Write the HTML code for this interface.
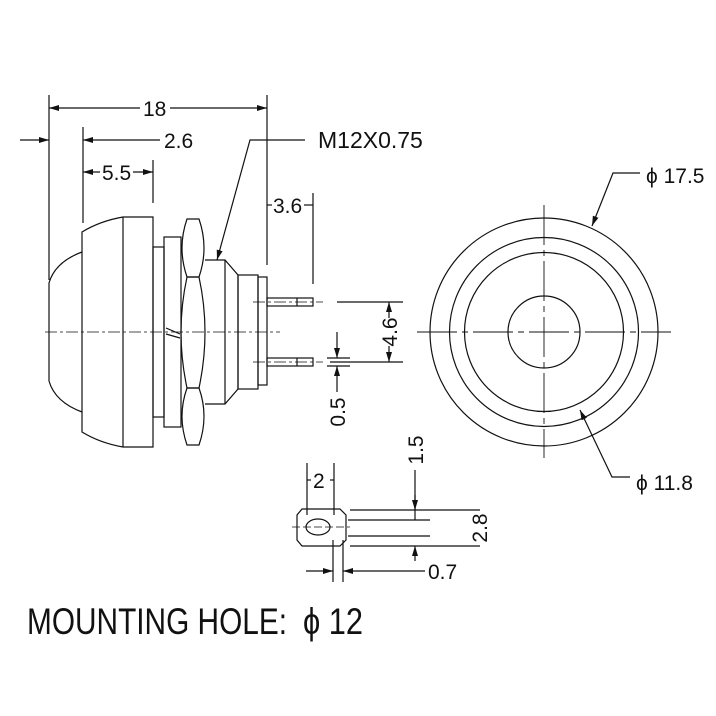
<!DOCTYPE html>
<html><head><style>body{margin:0;background:#fff}svg{display:block}</style></head><body>
<svg width="716" height="716" viewBox="0 0 716 716" xmlns="http://www.w3.org/2000/svg" font-family="Liberation Sans, sans-serif" fill="none" stroke="#111" stroke-width="1.2">
<defs><marker id="a" viewBox="0 0 10 6" refX="10" refY="3" markerWidth="10" markerHeight="6" orient="auto-start-reverse" markerUnits="userSpaceOnUse"><path d="M0,0 L10,3 L0,6z" fill="#111" stroke="none"/></marker></defs>
<!-- side view body -->
<path d="M49,381 V283 Q55,262 82,252 V232 Q100,221 123,217 H153 V447 H123 Q100,443 82,432 V412 Q55,402 49,381"/>
<line x1="82" y1="252" x2="82" y2="412"/>
<line x1="123" y1="217" x2="123" y2="447"/>
<rect x="153" y="247" width="11" height="170"/>
<rect x="164" y="237" width="17" height="190"/>
<path d="M187,219 H199 Q209,248 199,277 H187 Q177,248 187,219 Z"/>
<path d="M187,277 H199 Q211,332 199,388 H187 Q175,332 187,277 Z"/>
<path d="M187,388 H199 Q209,416 199,445 H187 Q177,416 187,388 Z"/>
<line x1="166" y1="328" x2="180" y2="334"/><line x1="166" y1="334" x2="180" y2="338"/>
<path d="M205,260 H225 L238,275 V389 L225,404 H205"/>
<line x1="225" y1="260" x2="225" y2="404"/>
<rect x="238" y="275" width="20" height="114"/>
<rect x="258" y="277" width="9" height="108"/>
<!-- pins -->
<rect x="267" y="298" width="46" height="8"/><rect x="267" y="358" width="46" height="8"/>
<line x1="297" y1="298" x2="297" y2="306"/><line x1="297" y1="358" x2="297" y2="366"/>
<g stroke-width="0.8" stroke-dasharray="12,3,3,3">
<line x1="253" y1="302" x2="323" y2="302"/><line x1="253" y1="362" x2="323" y2="362"/>
<line x1="45" y1="332" x2="280" y2="332"/>
</g>
<!-- dims top -->
<line x1="49" y1="95" x2="49" y2="280"/><line x1="267" y1="95" x2="267" y2="265"/>
<line x1="49" y1="108" x2="140" y2="108" marker-start="url(#a)"/><line x1="170" y1="108" x2="267" y2="108" marker-end="url(#a)"/>
<line x1="20" y1="140" x2="49" y2="140" marker-end="url(#a)"/>
<line x1="83" y1="127" x2="83" y2="223"/>
<line x1="83" y1="140" x2="160" y2="140" marker-start="url(#a)"/>
<line x1="153" y1="160" x2="153" y2="203"/>
<line x1="83" y1="172" x2="100" y2="172" marker-start="url(#a)"/><line x1="133" y1="172" x2="153" y2="172" marker-end="url(#a)"/>
<line x1="313" y1="193" x2="313" y2="284"/>
<line x1="267" y1="205" x2="272" y2="205"/><line x1="304" y1="205" x2="313" y2="205"/>
<path d="M305,140 H250 L217,260" marker-end="url(#a)"/>
<!-- 4.6 / 0.5 -->
<line x1="337" y1="302" x2="403" y2="302"/><line x1="330" y1="362" x2="403" y2="362"/>
<line x1="389" y1="302" x2="389" y2="318" marker-start="url(#a)"/><line x1="389" y1="346" x2="389" y2="362" marker-end="url(#a)"/>
<line x1="327" y1="358" x2="350" y2="358"/><line x1="327" y1="366" x2="350" y2="366"/>
<line x1="337" y1="332" x2="337" y2="358" marker-end="url(#a)"/><line x1="337" y1="366" x2="337" y2="392" marker-start="url(#a)"/>
<!-- front view -->
<circle cx="544" cy="332" r="114"/><circle cx="544" cy="332" r="94.5"/><circle cx="544" cy="332" r="79.5"/><circle cx="544" cy="332" r="36"/>
<g stroke-width="0.9" stroke-dasharray="40,5,6,5"><line x1="417" y1="332" x2="671" y2="332"/><line x1="544" y1="205" x2="544" y2="458"/></g>
<path d="M640,173 H613 L592,226" marker-end="url(#a)"/>
<path d="M630,477 H612 L580,410" marker-end="url(#a)"/>
<!-- mounting hole -->
<path d="M302,509 H340 L346,515 V540 L340,546 H302 L297,540 V515 Z"/>
<ellipse cx="318" cy="527" rx="12" ry="8"/>
<line x1="292" y1="527" x2="350" y2="527" stroke-width="0.8" stroke-dasharray="8,3"/>
<line x1="307" y1="463" x2="307" y2="515"/><line x1="334" y1="463" x2="334" y2="515"/>
<line x1="307" y1="480" x2="311" y2="480"/><line x1="330" y1="480" x2="334" y2="480"/>
<line x1="350" y1="510" x2="480" y2="510"/><line x1="348" y1="520" x2="430" y2="520"/>
<line x1="348" y1="536" x2="430" y2="536"/><line x1="350" y1="546" x2="480" y2="546"/>
<line x1="415" y1="470" x2="415" y2="520" /><line x1="415" y1="495" x2="415" y2="510" marker-end="url(#a)"/>
<line x1="415" y1="561" x2="415" y2="546" marker-end="url(#a)"/>
<line x1="333" y1="540" x2="333" y2="582"/><line x1="343" y1="540" x2="343" y2="582"/>
<line x1="306" y1="571" x2="333" y2="571" marker-end="url(#a)"/><line x1="425" y1="571" x2="343" y2="571" marker-end="url(#a)"/>
<!-- text -->
<g fill="#111" stroke="none" font-size="21">
<text x="143" y="116">18</text>
<text x="164" y="148">2.6</text>
<text x="318" y="148" font-size="23">M12X0.75</text>
<text x="102" y="180">5.5</text>
<text x="273" y="213">3.6</text>
<text transform="translate(397,332) rotate(-90)" text-anchor="middle">4.6</text>
<text transform="translate(345,412) rotate(-90)" text-anchor="middle">0.5</text>
<text x="646" y="183">ϕ 17.5</text>
<text x="636" y="490">ϕ 11.8</text>
<text x="313" y="488">2</text>
<text transform="translate(423,450) rotate(-90)" text-anchor="middle">1.5</text>
<text transform="translate(487,528) rotate(-90)" text-anchor="middle">2.8</text>
<text x="428" y="579">0.7</text>
<text x="27" y="634" font-size="37" textLength="260" lengthAdjust="spacingAndGlyphs">MOUNTING HOLE:</text>
<text x="303" y="634" font-size="37" textLength="60" lengthAdjust="spacingAndGlyphs">ϕ 12</text>
</g>
</svg>
</body></html>
